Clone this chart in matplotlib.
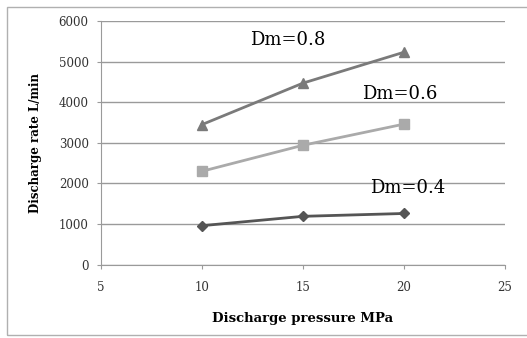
import matplotlib.pyplot as plt
from matplotlib.patches import Rectangle

# data
pressure = [10, 15, 20]
dm08 = [3450, 4470, 5230]
dm06 = [2300, 2940, 3460]
dm04 = [960, 1190, 1260]

plt.rcParams['font.family'] = ['DejaVu Serif']

fig = plt.figure(figsize=(5.27, 3.38), dpi=100)
ax = fig.add_axes([0.192, 0.217, 0.766, 0.721])

ax.plot(pressure, dm08, color='#7a7a7a', lw=2, marker='^', ms=7)
ax.plot(pressure, dm06, color='#aaaaaa', lw=2, marker='s', ms=7)
ax.plot(pressure, dm04, color='#555555', lw=2, marker='D', ms=5)

ax.set_xlim(5, 25)
ax.set_ylim(0, 6000)
ax.set_xticks([5, 10, 15, 20, 25])
ax.set_yticks(range(0, 7000, 1000))
ax.grid(axis='y', color='#9a9a9a', lw=1)
ax.set_axisbelow(True)
for s in ['top', 'right']:
    ax.spines[s].set_visible(False)
for s in ['left', 'bottom']:
    ax.spines[s].set_color('#9a9a9a')
ax.tick_params(colors='#9a9a9a', labelcolor='#333333', labelsize=8.5, length=3)
ax.tick_params(axis='y', pad=6)
ax.tick_params(axis='x', pad=9)

ax.set_xlabel('Discharge pressure MPa', fontsize=9.5, fontweight='bold', labelpad=13)
ax.set_ylabel('Discharge rate L/min', fontsize=8.5, fontweight='bold', labelpad=12)

ax.text(12.4, 5410, 'Dm=0.8', fontsize=13, va='baseline')
ax.text(17.9, 4080, 'Dm=0.6', fontsize=13, va='baseline')
ax.text(18.3, 1770, 'Dm=0.4', fontsize=13, va='baseline')

fig.patches.append(Rectangle((0.013, 0.009), 1.0, 0.970, transform=fig.transFigure,
                             fill=False, edgecolor='#b0b0b0', lw=1))

fig.savefig('out.png', dpi=100)
